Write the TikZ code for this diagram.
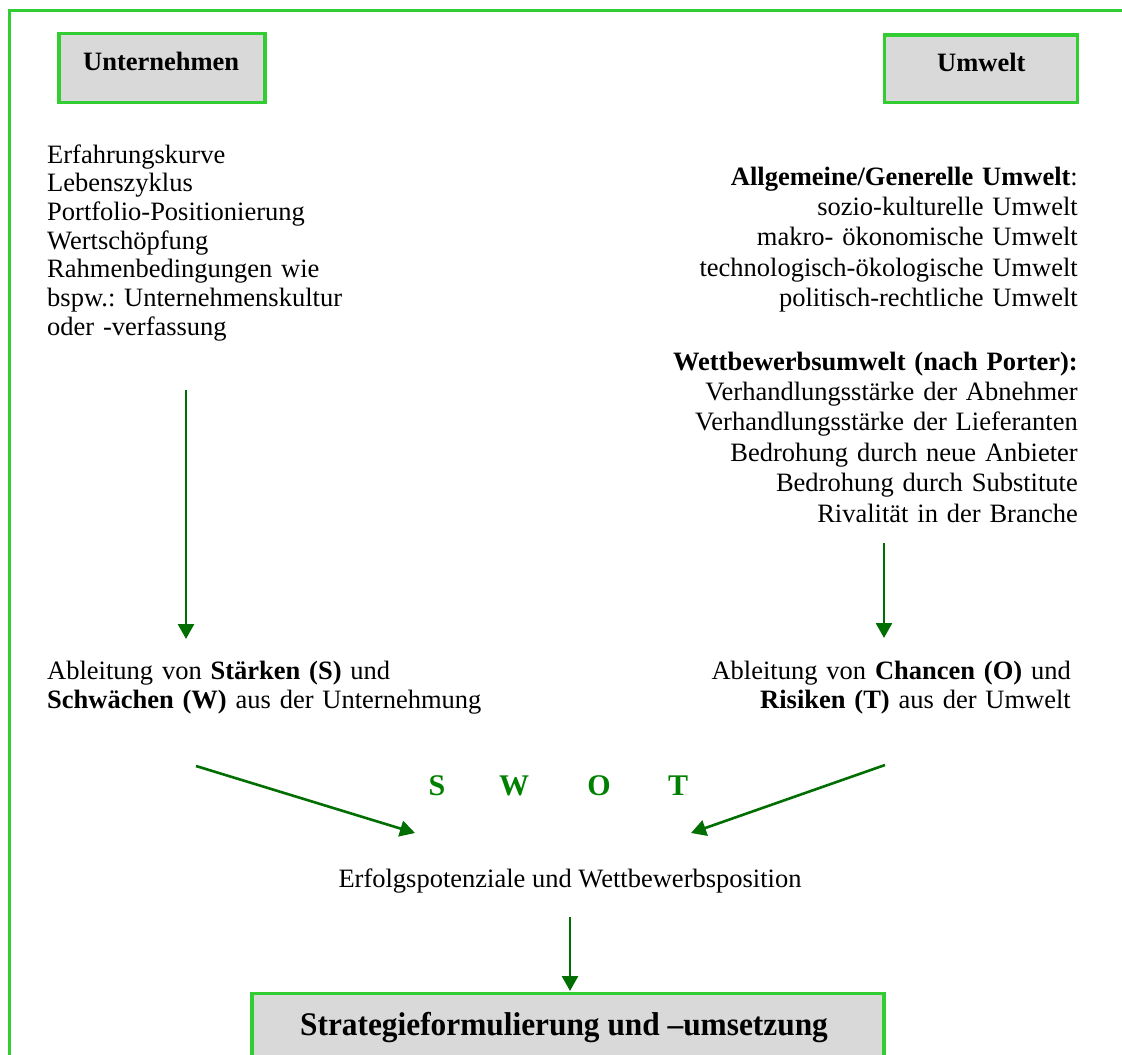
\documentclass[tikz,border=0pt]{standalone}
\usepackage{fontspec}
\setmainfont{Liberation Serif}
\usetikzlibrary{arrows.meta}
\definecolor{framegreen}{RGB}{50,205,50}
\definecolor{arrowgreen}{RGB}{0,110,0}
\definecolor{swotgreen}{RGB}{0,128,0}
\definecolor{boxgray}{RGB}{217,217,217}
\frenchspacing
\begin{document}
\begin{tikzpicture}[x=1pt,y=-1pt,
  frameline/.style={draw=framegreen,line width=3.3pt},
  graybox/.style={rectangle,draw=framegreen,line width=3.3pt,fill=boxgray,inner sep=0pt,outer sep=0pt},
  txt/.style={inner sep=0pt,font=\fontsize{26.5}{28.7}\selectfont},
  boldtxt/.style={inner sep=0pt,font=\fontsize{26.5}{28.7}\selectfont\bfseries},
  swot/.style={inner sep=0pt,anchor=base,text=swotgreen,font=\fontsize{30}{36}\selectfont\bfseries},
  flow/.style={draw=arrowgreen,line width=2.6pt,-{Triangle[length=15pt,width=16pt]}},
]
\useasboundingbox (0,0) rectangle (1122,1055);
\fill[white] (0,0) rectangle (1122,1055);
\begin{scope}
  \clip (0,0) rectangle (1122,1055);
  \draw[frameline] (9.5,10.5) rectangle (1200,1200);
  \node[graybox,anchor=north west,minimum width=632pt,minimum height=120pt] (strat) at (252,993.5) {};
\end{scope}
\node[anchor=base,inner sep=0pt] (strattext) at (564,1035)
  {\scalebox{0.95}[1]{\fontsize{33}{40}\selectfont\bfseries Strategieformulierung und –umsetzung}};

% top boxes
\node[graybox,minimum width=206pt,minimum height=68.8pt] (unt) at (162,68.1) {};
\node[boldtxt,anchor=base] (unttext) at (161.2,70) {Unternehmen};
\node[graybox,minimum width=193.2pt,minimum height=67.7pt] (umw) at (980.9,68.8) {};
\node[boldtxt,anchor=base] (umwtext) at (981.3,71.7) {Umwelt};

% left list
\node[txt,anchor=base west,text width=340pt,align=left] (leftlist) at (47,163)
  {Erfahrungskurve\\
   Lebenszyklus\\
   Portfolio-Positionierung\\
   Wertschöpfung\\
   Rahmenbedingungen wie\\
   bspw.: Unternehmenskultur\\
   oder -verfassung};

% right list
\node[anchor=base east,inner sep=0pt,text width=440pt,align=right,
      font=\fontsize{26.5}{30.4}\selectfont] (rightlist) at (1078,185)
  {\textbf{Allgemeine/Generelle Umwelt}:\\
   sozio-kulturelle Umwelt\\
   makro- ökonomische Umwelt\\
   technologisch-ökologische Umwelt\\
   politisch-rechtliche Umwelt\\[33pt]
   \textbf{Wettbewerbsumwelt (nach Porter):}\\
   Verhandlungsstärke der Abnehmer\\
   Verhandlungsstärke der Lieferanten\\
   Bedrohung durch neue Anbieter\\
   Bedrohung durch Substitute\\
   Rivalität in der Branche};

% derivations
\node[anchor=base west,inner sep=0pt,text width=440pt,align=left,
      font=\fontsize{26.5}{29}\selectfont] (leftder) at (47,679)
  {Ableitung von \textbf{Stärken (S)} und\\
   \textbf{Schwächen (W)} aus der Unternehmung};
\node[anchor=base east,inner sep=0pt,text width=440pt,align=right,
      font=\fontsize{26.5}{29}\selectfont] (rightder) at (1071,679)
  {Ableitung von \textbf{Chancen (O)} und\\
   \textbf{Risiken (T)} aus der Umwelt};

% SWOT
\node[swot] (sS) at (437,795) {S};
\node[swot] (sW) at (514,795) {W};
\node[swot] (sO) at (599,795) {O};
\node[swot] (sT) at (678,795) {T};

\node[txt,anchor=base] (erfolg) at (570,887) {Erfolgspotenziale und Wettbewerbsposition};

% arrow endpoints
\coordinate (l1s) at (186,390);
\coordinate (l1e) at (186,639);
\coordinate (r1s) at (884,543);
\coordinate (r1e) at (884,638);
\coordinate (l2s) at (196,766);
\coordinate (l2e) at (415,833);
\coordinate (r2s) at (885,765);
\coordinate (r2e) at (691,833);
\coordinate (bs) at (570,917);
\coordinate (be) at (570,991);

\draw[flow] (l1s) -- (l1e);
\draw[flow] (r1s) -- (r1e);
\draw[flow] (l2s) -- (l2e);
\draw[flow] (r2s) -- (r2e);
\draw[flow] (bs) -- (be);
\end{tikzpicture}
\end{document}
